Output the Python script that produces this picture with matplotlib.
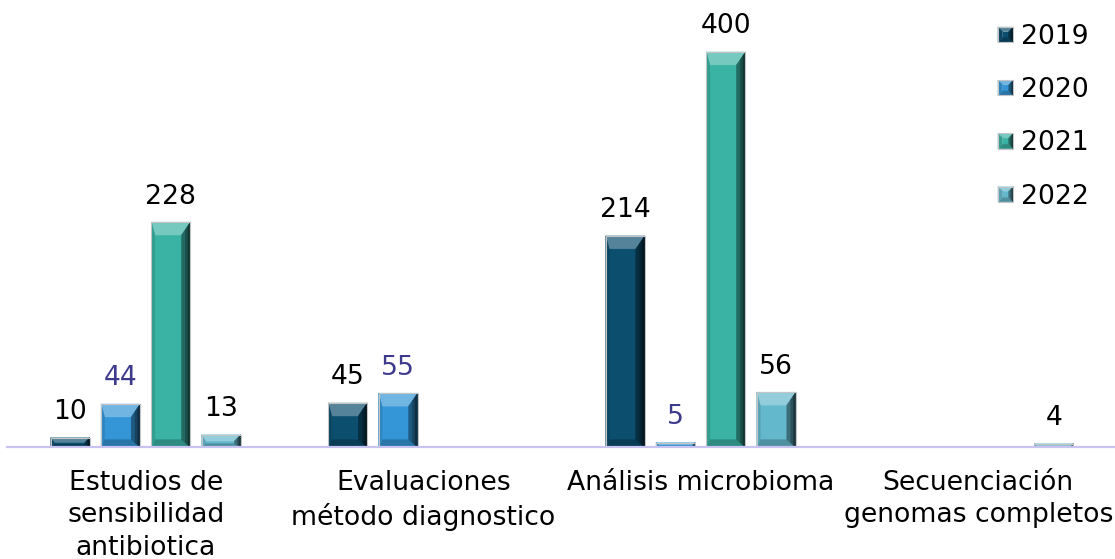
import matplotlib.pyplot as plt
import numpy as np
from matplotlib.patches import Polygon
from matplotlib.container import BarContainer
from matplotlib.legend_handler import HandlerBase
from matplotlib.colors import to_rgb

#---------Daten--------
categorias = ["Estudios de\nsensibilidad\nantibiotica",
              "Evaluaciones\nmétodo diagnostico",
              "Análisis microbioma",
              "Secuenciación\ngenomas completos"]
anios = ["2019", "2020", "2021", "2022"]
v2019 = [10, 45, 214, None]
v2020 = [44, 55, 5, None]
v2021 = [228, None, 400, None]
v2022 = [13, None, 56, 4]
series = [v2019, v2020, v2021, v2022]

farben = ["#0c4e6e", "#3496d7", "#3ab2a4", "#64b8cc"]
textfarben = ["black", "#3d3a8c", "black", "black"]


def mischen(farbe, faktor):
    # faktor > 1 aufhellen, < 1 abdunkeln
    r = np.array(to_rgb(farbe))
    if faktor >= 1:
        return tuple(r + (1 - r) * (faktor - 1))
    return tuple(r * faktor)


def bisel_polygone(x0, y0, w, h, dl, dr, dy, farbe, unten=0.6, **kw):
    # Abgeschraegte Kanten: oben hell, rechts dunkel, unten und links leicht dunkel
    aussen = [(x0, y0), (x0 + w, y0), (x0 + w, y0 + h), (x0, y0 + h)]
    innen = [(x0 + dl, y0 + dy * unten), (x0 + w - dr, y0 + dy * unten),
             (x0 + w - dr, y0 + h - dy), (x0 + dl, y0 + h - dy)]
    teile = [
        (innen, farbe),
        ([aussen[3], aussen[2], innen[2], innen[3]], mischen(farbe, 1.3)),
        ([aussen[0], aussen[1], innen[1], innen[0]], mischen(farbe, 0.78)),
        ([aussen[0], aussen[3], innen[3], innen[0]], mischen(farbe, 0.88)),
        ([aussen[1], aussen[2], innen[2], innen[1]], mischen(farbe, 0.6)),
    ]
    polys = [Polygon(p, closed=True, facecolor=c, edgecolor=c, lw=0.3, **kw) for p, c in teile]
    # dunkler Verlauf ganz rechts
    for anteil, fak in [(0.6, 0.45), (0.3, 0.3)]:
        sx = dr * anteil
        polys.append(Polygon([(x0 + w - sx, y0 + dy * unten * anteil), (x0 + w, y0), (x0 + w, y0 + h),
                              (x0 + w - sx, y0 + h - dy * anteil)], closed=True,
                             facecolor=mischen(farbe, fak), edgecolor='none', **kw))
    polys.append(Polygon(aussen, closed=True, facecolor='none', edgecolor='#c4c4c4', lw=0.8, **kw))
    return polys


class HandlerBisel(HandlerBase):
    def create_artists(self, legend, orig_handle, xdescent, ydescent, width, height, fontsize, trans):
        farbe = orig_handle.patches[0].get_facecolor()
        s = min(width, height)
        x0 = -xdescent + (width - s) / 2
        y0 = -ydescent + (height - s) / 2
        polys = bisel_polygone(x0, y0, s, s, s * 0.3, s * 0.3, s * 0.3, farbe, unten=1.0)
        for p in polys:
            p.set_transform(trans)
        return polys


fig = plt.figure(figsize=(11.15, 5.59), dpi=100)
ax = fig.add_axes([0.0063, 0.1995, 0.9955, 0.796])
ax.set_xlim(-0.5, 3.5)
ax.set_ylim(0, 450)

x = np.arange(len(categorias))
abstand = 0.1814
breite = 0.1407

# Pixelgroesse in Datenkoordinaten
pos = ax.get_position()
px_x = 4.0 / (pos.width * fig.get_figwidth() * fig.dpi)
px_y = 450.0 / (pos.height * fig.get_figheight() * fig.dpi)

container = []
for i, (werte, farbe) in enumerate(zip(series, farben)):
    hoehen = [0 if v is None else v for v in werte]
    bars = ax.bar(x + (i - 1.5) * abstand, hoehen, breite, color=farbe, label=anios[i])
    container.append(bars)
    for b, v in zip(bars, werte):
        if v is None:
            b.set_visible(False)
            continue
        h_px = b.get_height() / px_y
        d = min(13.0, h_px / 2)
        for p in bisel_polygone(b.get_x(), b.get_y(), b.get_width(), b.get_height(),
                                min(3.5, d) * px_x, min(9.0, d) * px_x, d * px_y, farbe):
            ax.add_patch(p)
    ax.bar_label(bars, labels=["" if v is None else str(v) for v in werte],
                 padding=9, fontsize=19.2, color=textfarben[i])

ax.set_xticks(x, categorias, fontsize=19.2, linespacing=1.32)
ax.tick_params(axis='x', length=0, pad=16)
ax.set_yticks([])
for s in ['left', 'right', 'top']:
    ax.spines[s].set_visible(False)
ax.spines['bottom'].set_color('#c8c3f0')
ax.spines['bottom'].set_linewidth(1.6)

ax.legend(handles=container, handler_map={BarContainer: HandlerBisel()},
          loc='upper left', bbox_to_anchor=(0.8855, 0.976), bbox_transform=fig.transFigure,
          frameon=False, fontsize=19.2, handlelength=0.57, handleheight=0.57,
          handletextpad=0.28, labelspacing=1.02, borderaxespad=0)

fig.savefig("out.png", dpi=100)
